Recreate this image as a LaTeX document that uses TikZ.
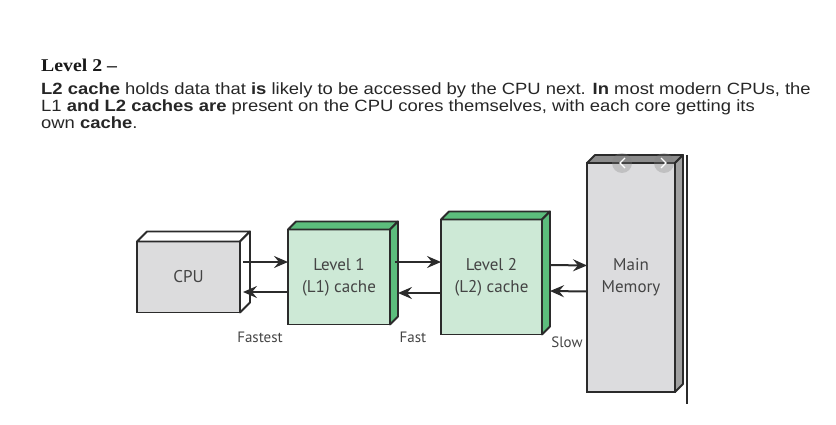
\documentclass[tikz,border=0pt]{standalone}
\usepackage{fontspec}
\setmainfont{Liberation Sans}[FakeStretch=1.13]
\newfontfamily\headfont{Liberation Serif}[FakeStretch=1.1]
\newfontfamily\boxfont{PT Sans}
\usetikzlibrary{arrows.meta}
\definecolor{edge}{HTML}{2B2B2B}
\definecolor{textgrey}{HTML}{444444}
\definecolor{cpuface}{HTML}{DCDCDD}
\definecolor{cacheface}{HTML}{CDE9D6}
\definecolor{cacheside}{HTML}{5CBD7C}
\definecolor{memface}{HTML}{DCDCDE}
\definecolor{memtop}{HTML}{8C8C8C}
\definecolor{memside}{HTML}{A0A0A0}

\begin{document}
\begin{tikzpicture}[x=1pt,y=-1pt,
  box/.style={draw=edge,line width=1.8pt,inner sep=0pt,outer sep=0pt,align=center,
    text=textgrey,font=\boxfont\fontsize{17}{22}\selectfont},
  face/.style={draw=edge,line width=1.8pt,line join=round},
  link/.style={draw=edge,line width=2pt,-{Stealth[length=14pt,width=12pt,inset=5pt]}},
  tag/.style={text=textgrey,font=\boxfont\fontsize{15}{16}\selectfont}]
\useasboundingbox (0,0) rectangle (836,425);

\node[anchor=base west,inner sep=0pt,text=black!90,font=\headfont\bfseries\fontsize{18}{20}\selectfont] (head) at (41,72) {Level 2 –};
\node[anchor=base west,inner sep=0pt,align=left,text=black!85,font=\fontsize{16.3}{17}\selectfont] (body) at (41,129)
  {\textbf{L2 cache} holds data that \textbf{is} likely to be accessed by the CPU next. \textbf{In} most modern CPUs, the\\
   L1 \textbf{and L2 caches are} present on the CPU cores themselves, with each core getting its\\
   own \textbf{cache}.};

\node[box,fill=cpuface,minimum width=103pt,minimum height=71pt] (cpu) at (188.5,277) {CPU};
\node[box,fill=cacheface,minimum width=102pt,minimum height=95pt] (l1) at (339,277) {Level 1\\(L1) cache};
\node[box,fill=cacheface,minimum width=101pt,minimum height=115pt] (l2) at (491.5,277) {Level 2\\(L2) cache};
\node[box,fill=memface,minimum width=88pt,minimum height=229pt] (mem) at (631,277.5) {Main\\Memory};

\foreach \n/\d/\tc/\sc in {cpu/10/white/white,l1/8/cacheside/cacheside,l2/8/cacheside/cacheside,mem/8/memtop/memside}{
  \filldraw[face,fill=\tc] (\n.north west) -- ++(\d,-\d) -- ([shift={(\d,-\d)}]\n.north east) -- (\n.north east) -- cycle;
  \filldraw[face,fill=\sc] (\n.north east) -- ++(\d,-\d) -- ([shift={(\d,-\d)}]\n.south east) -- (\n.south east) -- cycle;
}

\fill[gray,opacity=.3] (622,163) circle (10) (664,163) circle (10);
\draw[white,line width=1.2pt] (625,158) -- (620,163) -- (625,168) (661,158) -- (666,163) -- (661,168);
\draw[edge,line width=1.5pt] (mem.north east) ++(12,-8) -- ++(0,249);

\draw[link] ([shift={(3,-15)}]cpu.east) -- ([shift={(0,-15)}]l1.west);
\draw[link] ([shift={(0,15)}]l1.west) -- ([shift={(3,15)}]cpu.east);
\draw[link] ([shift={(5,-15)}]l1.east) -- ([shift={(0,-15)}]l2.west);
\draw[link] ([shift={(0,16)}]l2.west) -- ([shift={(8,16)}]l1.east);
\draw[link] ([shift={(8,-12)}]l2.east) -- ([shift={(0,-12)}]mem.west);
\draw[link] ([shift={(0,14)}]mem.west) -- ([shift={(8,14)}]l2.east);

\node[tag] (fastest) at (260,337) {Fastest};
\node[tag] (fast) at (413,337) {Fast};
\node[tag] (slow) at (567,342) {Slow};
\end{tikzpicture}
\end{document}
